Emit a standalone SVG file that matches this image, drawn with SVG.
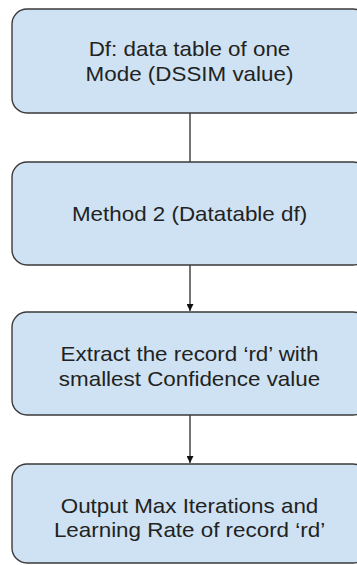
<svg xmlns="http://www.w3.org/2000/svg" width="357" height="565" viewBox="0 0 357 565">
  <style>
    .box { fill: #cfe2f3; stroke: #3a3a3a; stroke-width: 1.4; }
    .lbl { font-family: "Liberation Sans", Arial, sans-serif; font-size: 20px; fill: #222; text-anchor: middle; }
    .wire { stroke: #2a2a2a; stroke-width: 1.3; fill: none; }
  </style>
  <defs>
    <marker id="head" viewBox="0 0 8 8" refX="8" refY="4" markerWidth="8" markerHeight="7" markerUnits="userSpaceOnUse" orient="auto">
      <path d="M0,0 L8,4 L0,8 Z" fill="#111"/>
    </marker>
  </defs>

  <g id="connectors">
    <line class="wire" x1="190" y1="113" x2="190" y2="162"/>
    <line class="wire" x1="190" y1="265" x2="190" y2="311" marker-end="url(#head)"/>
    <line class="wire" x1="190" y1="415" x2="190" y2="463" marker-end="url(#head)"/>
  </g>

  <g id="node-df">
    <rect class="box" x="12" y="9" width="356" height="104" rx="15"/>
    <g transform="translate(189.5 0) scale(1.12 1)">
      <text class="lbl" x="0" y="56">Df: data table of one</text>
      <text class="lbl" x="0" y="80.7">Mode (DSSIM value)</text>
    </g>
  </g>

  <g id="node-method">
    <rect class="box" x="12" y="162" width="356" height="103" rx="15"/>
    <g transform="translate(189.5 0) scale(1.12 1)">
      <text class="lbl" x="0" y="221">Method 2 (Datatable df)</text>
    </g>
  </g>

  <g id="node-extract">
    <rect class="box" x="12" y="312" width="356" height="103" rx="15"/>
    <g transform="translate(189.5 0) scale(1.12 1)">
      <text class="lbl" x="0" y="361.5">Extract the record ‘rd’ with</text>
      <text class="lbl" x="0" y="386">smallest Confidence value</text>
    </g>
  </g>

  <g id="node-output">
    <rect class="box" x="12" y="464" width="356" height="99" rx="15"/>
    <g transform="translate(189.5 0) scale(1.12 1)">
      <text class="lbl" x="0" y="513">Output Max Iterations and</text>
      <text class="lbl" x="0" y="537.5">Learning Rate of record ‘rd’</text>
    </g>
  </g>
</svg>
